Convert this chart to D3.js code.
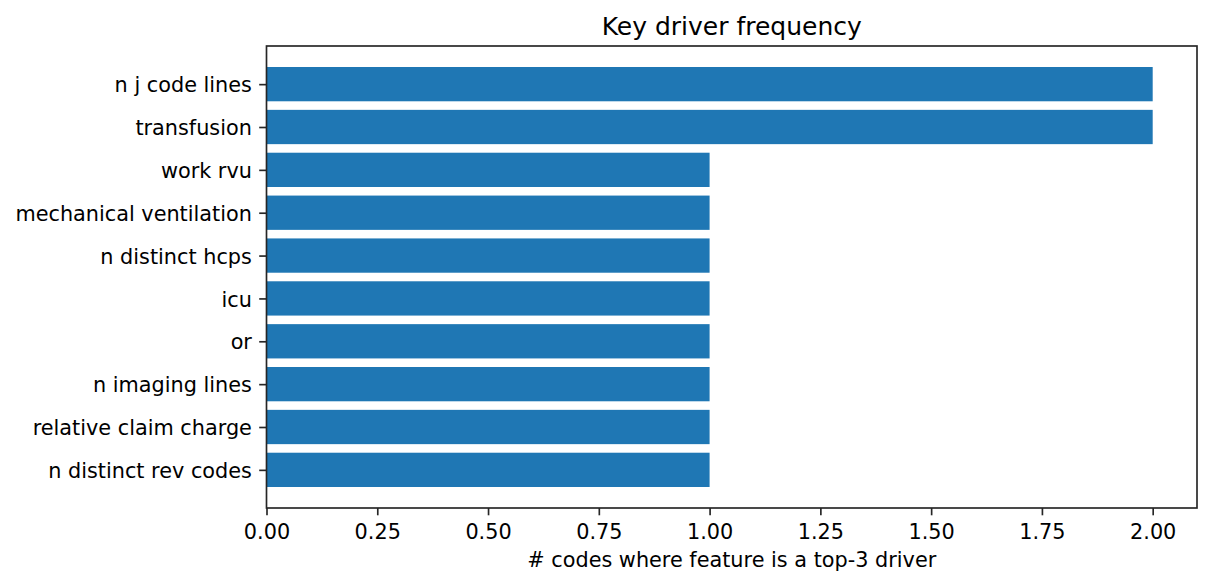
<!DOCTYPE html>
<html>
<head>
<meta charset="utf-8">
<script src="https://cdn.jsdelivr.net/npm/d3@7"></script>
<style>
  body { margin: 0; background: #fff; }
  svg { display: block; font-family: "DejaVu Sans", sans-serif; }
</style>
</head>
<body>
<svg id="chart" width="1211" height="586"></svg>
<script>
const categories = ["n j code lines", "transfusion", "work rvu", "mechanical ventilation", "n distinct hcps", "icu", "or", "n imaging lines", "relative claim charge", "n distinct rev codes"];
const counts = [2, 2, 1, 1, 1, 1, 1, 1, 1, 1];
const xTicks = [0, 0.25, 0.5, 0.75, 1.0, 1.25, 1.5, 1.75, 2.0];
const titleText = "Key driver frequency";
const xLabelText = "# codes where feature is a top-3 driver";

(function () {
const svg = d3.select("#chart");
const mLeft = 266.5, mRight = 1197, mTop = 46, mBottom = 508;
const n = categories.length;
const barH = 0.8;
const pad = (n - 1 + barH) * 0.05;
const fs = 20.8;

const x = d3.scaleLinear().domain([0, 2.1]).range([mLeft, mRight]);
const y = d3.scaleLinear().domain([-barH / 2 - pad, n - 1 + barH / 2 + pad]).range([mTop, mBottom]);

const data = categories.map((c, i) => ({ c, v: counts[i], i }));

svg.append("g").selectAll("rect").data(data).enter().append("rect")
  .attr("x", x(0))
  .attr("y", d => y(d.i - barH / 2))
  .attr("width", d => x(d.v) - x(0))
  .attr("height", d => y(d.i + barH / 2) - y(d.i - barH / 2))
  .attr("fill", "#1f77b4");

svg.append("rect").attr("x", mLeft).attr("y", mTop).attr("width", mRight - mLeft).attr("height", mBottom - mTop)
  .attr("fill", "none").attr("stroke", "#262626").attr("stroke-width", 1.67);

const xAxis = d3.axisBottom(x).tickValues(xTicks).tickFormat(d3.format(".2f")).tickSize(7.3).tickPadding(7.3);
const gx = svg.append("g").attr("transform", `translate(0,${mBottom})`).call(xAxis);
gx.select(".domain").remove();
gx.selectAll("line").attr("stroke", "#262626").attr("stroke-width", 1.67);
gx.selectAll("text").attr("font-size", fs).attr("fill", "#000").attr("font-family", "DejaVu Sans").attr("dy", "0.8em");

const yAxis = d3.axisLeft(y).tickValues(d3.range(n)).tickFormat(i => categories[i]).tickSize(7.3).tickPadding(7.3);
const gy = svg.append("g").attr("transform", `translate(${mLeft},0)`).call(yAxis);
gy.select(".domain").remove();
gy.selectAll("line").attr("stroke", "#262626").attr("stroke-width", 1.67);
gy.selectAll("text").attr("font-size", fs).attr("fill", "#000").attr("font-family", "DejaVu Sans").attr("dy", "0.37em");

svg.append("text").attr("x", (mLeft + mRight) / 2).attr("y", 34.7)
  .attr("text-anchor", "middle").attr("font-size", 25).attr("fill", "#000").text(titleText);

svg.append("text").attr("x", (mLeft + mRight) / 2).attr("y", 567.3)
  .attr("text-anchor", "middle").attr("font-size", fs).attr("fill", "#000").text(xLabelText);
})();
</script>
</body>
</html>
